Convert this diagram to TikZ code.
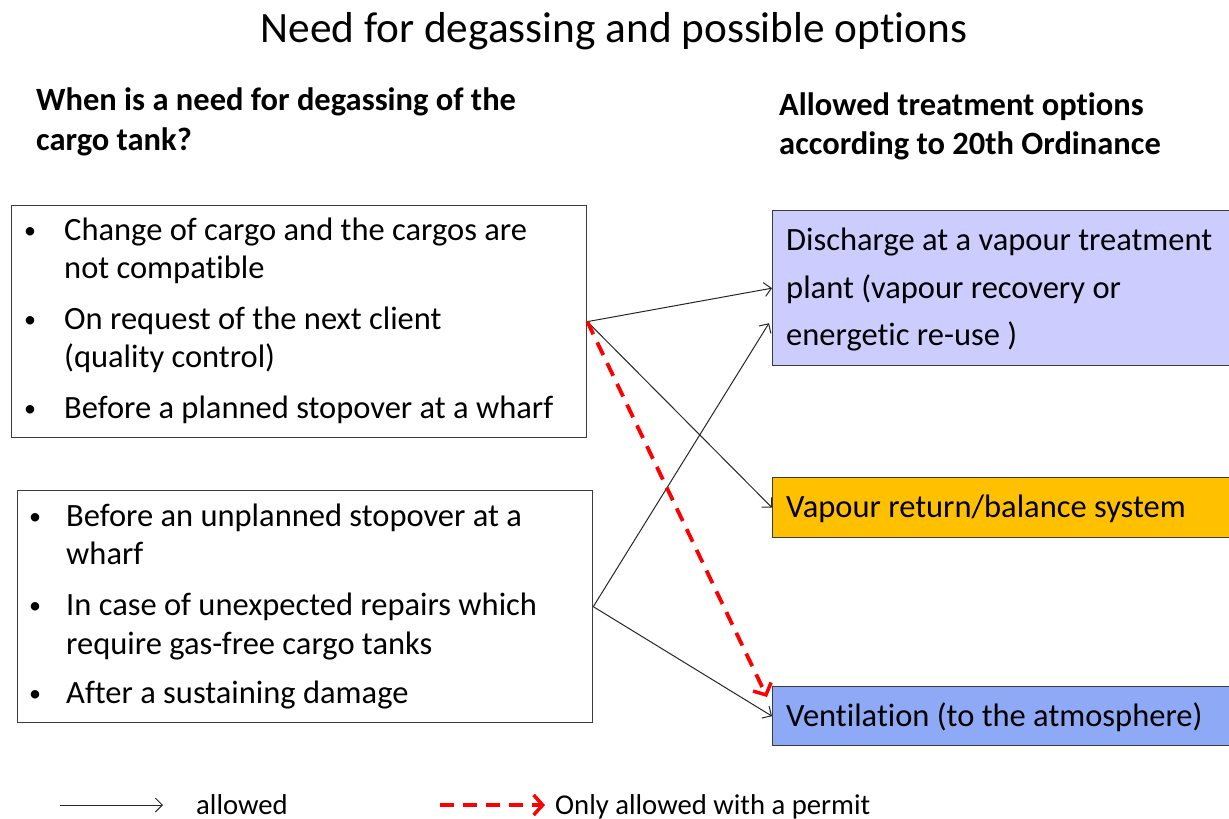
\documentclass[tikz,border=0pt]{standalone}
\usepackage{fontspec}
\setmainfont{Carlito}[Ligatures=NoCommon]
\usetikzlibrary{arrows.meta,calc}
\definecolor{lav}{RGB}{204,204,255}
\definecolor{gold}{RGB}{255,192,0}
\definecolor{cblue}{RGB}{142,169,245}
\definecolor{edge}{RGB}{60,60,60}
\tikzset{
 box/.style={draw=edge,line width=1.3pt,inner sep=0pt,anchor=north west},
 txt/.style={anchor=base west,inner sep=0pt,font=\fontsize{32.5}{38}\selectfont},
 bul/.style={anchor=base,inner sep=0pt,font=\fontsize{24}{28}\selectfont},
 head/.style={anchor=base west,inner sep=0pt,font=\fontsize{32.5}{38}\selectfont\bfseries},
 leg/.style={anchor=base west,inner sep=0pt,font=\fontsize{28.7}{34}\selectfont},
 allowed/.style={draw=black!85,line width=1pt,-{Straight Barb[length=7pt,width=14pt]}},
 permit/.style={draw=red,line width=3.8pt,dash pattern=on 14pt off 9pt,-{Straight Barb[length=9pt,width=20pt,line width=3.5pt]}},
}
\begin{document}
\begin{tikzpicture}[x=1pt,y=-1pt]
\useasboundingbox (0,0) rectangle (1229,819);
% title and headings
\node[anchor=base,inner sep=0pt,font=\fontsize{43.3}{50}\selectfont] (title) at (614,42) {Need for degassing and possible options};
\node[head] (h1a) at (36,110) {When is a need for degassing of the};
\node[head] (h1b) at (36,150) {cargo tank?};
\node[head] (h2a) at (779,115) {Allowed treatment options};
\node[head] (h2b) at (779,154) {according to 20th Ordinance};
% boxes
\node[box,minimum width=575pt,minimum height=232pt] (A) at (11,205) {};
\node[box,minimum width=575pt,minimum height=232pt] (B) at (17,490) {};
\node[box,fill=lav,minimum width=462pt,minimum height=155pt] (C) at (772,210) {};
\node[box,fill=gold,minimum width=462pt,minimum height=60pt] (D) at (772,477) {};
\node[box,fill=cblue,minimum width=462pt,minimum height=59pt] (E) at (772,686) {};
% box A text
\node[bul] (a1b) at (30,238) {•};
\node[txt] (a1) at (64,240) {Change of cargo and the cargos are};
\node[txt] (a1c) at (64,278) {not compatible};
\node[bul] (a2b) at (30,327) {•};
\node[txt] (a2) at (64,329) {On request of the next client};
\node[txt] (a2c) at (64,367) {(quality control)};
\node[bul] (a3b) at (30,416) {•};
\node[txt] (a3) at (64,418) {Before a planned stopover at a wharf};
% box B text
\node[bul] (b1b) at (35,524) {•};
\node[txt] (b1) at (66,526) {Before an unplanned stopover at a};
\node[txt] (b1c) at (66,564) {wharf};
\node[bul] (b2b) at (35,613) {•};
\node[txt] (b2) at (66,615) {In case of unexpected repairs which};
\node[txt] (b2c) at (66,654) {require gas-free cargo tanks};
\node[bul] (b3b) at (35,701) {•};
\node[txt] (b3) at (66,703) {After a sustaining damage};
% right texts
\node[txt] (c1) at (786,250) {Discharge at a vapour treatment};
\node[txt] (c2) at (786,298) {plant (vapour recovery or};
\node[txt] (c3) at (786,345) {energetic re-use )};
\node[txt] (d1) at (786,517) {Vapour return/balance system};
\node[txt] (e1) at (786,726) {Ventilation (to the atmosphere)};
% connectors
\draw[allowed] (A.east) -- (C.west);
\draw[allowed] (A.east) -- (D.west);
\draw[allowed] (B.east) -- ([xshift=-3pt,yshift=-35pt]C.west);
\draw[allowed] (B.east) -- (E.west);
\draw[permit] (A.east) -- ([xshift=-5pt,yshift=-11pt]E.north west);
% legend
\coordinate (l1s) at (60,805);
\coordinate (l1e) at (163,805);
\coordinate (l2s) at (440,805);
\coordinate (l2e) at (545,805);
\draw[allowed] (l1s) -- (l1e);
\node[leg] (lt1) at (196,814) {allowed};
\draw[permit] (l2s) -- (l2e);
\node[leg] (lt2) at (555,814) {Only allowed with a permit};
\end{tikzpicture}
\end{document}
